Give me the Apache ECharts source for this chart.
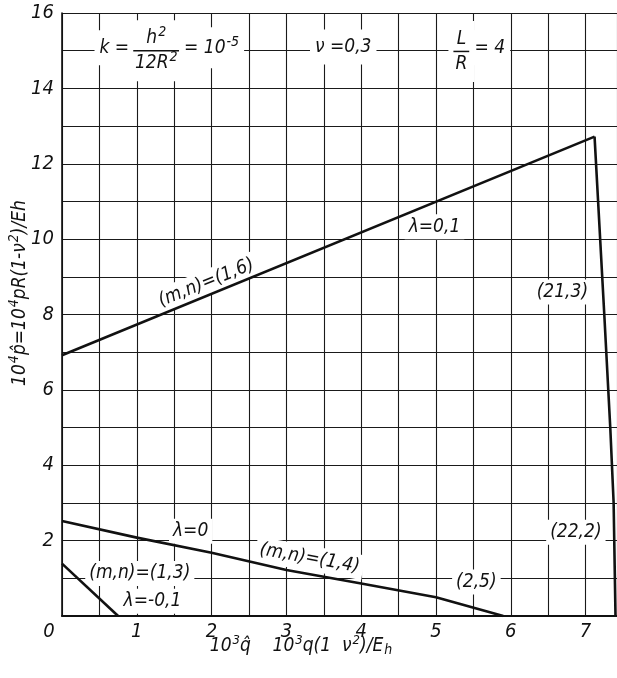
<!DOCTYPE html>
<html>
<head>
<meta charset="utf-8">
<script src="https://cdn.jsdelivr.net/npm/echarts@6/dist/echarts.min.js"></script>
<style>
  html, body { margin: 0; padding: 0; background: #fff; }
  #chart { width: 617px; height: 678px; }
</style>
</head>
<body>
<div id="chart"></div>
<script>
// Buckling curves of a cylindrical shell, 10^3 q̂ (x) against 10^4 p̂ (y)
const mode16 = [[0, 6.92], [7.12, 12.72]];                                   // λ = 0,1 ; (m,n) = (1,6)
const mode213 = [[7.12, 12.72], [7.25, 8.0], [7.33, 5.0], [7.375, 3.0], [7.40, 0]]; // (21,3) -> (22,2)
const mode14 = [[0, 2.52], [1, 2.08], [2, 1.68], [3, 1.22], [4, 0.86], [5, 0.5], [5.9, 0]]; // λ = 0 ; (1,4) -> (2,5)
const mode13 = [[0, 1.39], [0.75, 0]];                                        // λ = -0,1 ; (1,3)

// tick labels
const xTickLabels = [0, 1, 2, 3, 4, 5, 6, 7];
const yTickLabels = [2, 4, 6, 8, 10, 12, 14, 16];

// curve annotations: [x, y, text, rotation]
const curveNotes = [
  [1.93, 8.84, '(m,n)=(1,6)', 22],
  [4.98, 10.33, 'λ=0,1', 0],
  [6.69, 8.60, '(21,3)', 0],
  [6.87, 2.22, '(22,2)', 0],
  [1.72, 2.25, 'λ=0', 0],
  [3.31, 1.53, '(m,n)=(1,4)', -10],
  [5.54, 0.90, '(2,5)', 0],
  [1.04, 1.13, '(m,n)=(1,3)', 0],
  [1.21, 0.39, 'λ=-0,1', 0]
];

// parameter block along the top row: [x, y, rich text]
const paramNotes = [
  [0.70, 15.08, 'k ='],
  [1.26, 15.00, '{n|h}{ns|2}\n{bar| }\n{d|12R}{ds|2}'],
  [2.00, 15.08, '= 10{sup|-5}'],
  [3.76, 15.10, 'ν =0,3'],
  [5.34, 14.98, '{n|L}\n{bar2| }\n{d|R}'],
  [5.72, 15.08, '= 4']
];

const FONT = "'Liberation Sans Narrow','DejaVu Sans Condensed','Liberation Sans',sans-serif";
const INK = '#111';

const richStyles = {
  sup: { fontSize: 14, fontStyle: 'italic', fontFamily: FONT, color: INK, padding: [0, 0, 11, 1] },
  n: { fontSize: 19, fontStyle: 'italic', fontFamily: FONT, color: INK, align: 'center', lineHeight: 20 },
  ns: { fontSize: 14, fontStyle: 'italic', fontFamily: FONT, color: INK, align: 'center', padding: [0, 0, 11, 1], lineHeight: 20 },
  d: { fontSize: 19, fontStyle: 'italic', fontFamily: FONT, color: INK, align: 'center', lineHeight: 20 },
  ds: { fontSize: 14, fontStyle: 'italic', fontFamily: FONT, color: INK, align: 'center', padding: [0, 0, 11, 1], lineHeight: 20 },
  bar: { width: 46, height: 1.5, fontSize: 1, lineHeight: 5, backgroundColor: INK, align: 'center' },
  bar2: { width: 16, height: 1.5, fontSize: 1, lineHeight: 5, backgroundColor: INK, align: 'center' }
};

function noteSeries(items, pad) {
  return {
    type: 'scatter',
    z: 2,
    symbolSize: 0,
    silent: true,
    itemStyle: { opacity: 1 },
    emphasis: { disabled: true },
    data: items.map(function (d) {
      return {
        value: [d[0], d[1]],
        label: {
          show: true,
          position: 'inside',
          formatter: d[2],
          rotate: d[3] || 0,
          align: 'center',
          verticalAlign: 'middle',
          fontSize: 19,
          fontStyle: 'italic',
          fontFamily: FONT,
          color: INK,
          opacity: 1,
          backgroundColor: '#fff',
          padding: pad,
          rich: richStyles
        }
      };
    })
  };
}

function curve(data) {
  return {
    type: 'line',
    z: 3,
    data: data,
    showSymbol: false,
    symbol: 'none',
    silent: true,
    lineStyle: { color: INK, width: 2.6 },
    animation: false
  };
}

const chart = echarts.init(document.getElementById('chart'), null, { renderer: 'canvas' });

chart.setOption({
  animation: false,
  backgroundColor: '#fff',
  grid: { left: 62, right: 0, top: 13, bottom: 62, containLabel: false },
  xAxis: {
    type: 'value',
    min: 0,
    max: 7.42,
    interval: 0.5,
    axisLine: { show: true, lineStyle: { color: INK, width: 2 } },
    axisTick: { show: false },
    splitLine: { show: true, lineStyle: { color: '#1a1a1a', width: 1.1 } },
    axisLabel: {
      margin: 6,
      color: INK,
      fontSize: 20,
      fontStyle: 'italic',
      fontFamily: FONT,
      showMaxLabel: false,
      formatter: function (v) {
        const i = xTickLabels.indexOf(v);
        if (i < 0) return '';
        return v === 0 ? '{z|0}' : String(xTickLabels[i]);
      },
      rich: { z: { fontSize: 20, fontStyle: 'italic', fontFamily: FONT, color: INK, padding: [0, 26, 0, 0] } }
    }
  },
  yAxis: {
    type: 'value',
    min: 0,
    max: 16,
    interval: 1,
    axisLine: { show: true, lineStyle: { color: INK, width: 1.6 } },
    axisTick: { show: false },
    splitLine: { show: true, lineStyle: { color: '#1a1a1a', width: 1.1 } },
    axisLabel: {
      margin: 8,
      color: INK,
      fontSize: 20,
      fontStyle: 'italic',
      fontFamily: FONT,
      formatter: function (v) {
        return yTickLabels.indexOf(v) >= 0 ? String(v) : '';
      }
    }
  },
  graphic: [
    {
      type: 'text',
      x: 20,
      y: 293,
      rotation: Math.PI / 2,
      style: {
        text: '10{s|4}p̂=10{s|4}pR(1-ν{s|2})/Eh',
        align: 'center',
        verticalAlign: 'middle',
        fontSize: 19,
        fontStyle: 'italic',
        fontFamily: FONT,
        fill: INK,
        rich: { s: { fontSize: 14, fontStyle: 'italic', fontFamily: FONT, fill: INK, padding: [0, 0, 11, 1] } }
      }
    },
    {
      type: 'text',
      x: 301,
      y: 646,
      style: {
        text: '10{s|3}q̂    10{s|3}q(1  ν{s|2})/E{b|h}',
        align: 'center',
        verticalAlign: 'middle',
        fontSize: 19,
        fontStyle: 'italic',
        fontFamily: FONT,
        fill: INK,
        rich: {
          s: { fontSize: 13, fontStyle: 'italic', fontFamily: FONT, fill: INK, padding: [0, 0, 11, 1] },
          b: { fontSize: 14, fontStyle: 'italic', fontFamily: FONT, fill: INK, padding: [9, 0, 0, 1] }
        }
      }
    }
  ],
  series: [
    noteSeries(curveNotes, [3, 4]),
    noteSeries(paramNotes, [8, 5]),
    curve(mode16),
    curve(mode213),
    curve(mode14),
    curve(mode13)
  ]
});
</script>
</body>
</html>
